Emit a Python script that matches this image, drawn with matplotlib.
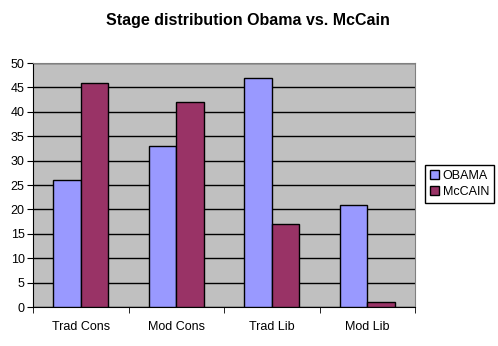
import numpy as np
import matplotlib.pyplot as plt

plt.rcParams['font.family'] = ['Liberation Sans', 'DejaVu Sans']

# Daten
categories = ['Trad Cons', 'Mod Cons', 'Trad Lib', 'Mod Lib']
obama = [26, 33, 47, 21]
mccain = [46, 42, 17, 1]

fig = plt.figure(figsize=(4.98, 3.46), dpi=100)
ax = fig.add_axes([33/498, 1-307/346, (415-33)/498, (307-63)/346])
ax.set_facecolor('#C0C0C0')

x = np.arange(len(categories))
w = 0.286
ax.bar(x - w/2, obama, w, color='#9999FF', edgecolor='black', linewidth=1, label='OBAMA', zorder=3)
ax.bar(x + w/2, mccain, w, color='#993366', edgecolor='black', linewidth=1, label='McCAIN', zorder=3)

ax.set_xlim(-0.5, 3.5)
ax.set_ylim(0, 50)
ax.set_yticks(range(0, 51, 5))
ax.yaxis.grid(True, color='black', linewidth=1, zorder=1)
ax.set_axisbelow(True)

ax.set_xticks(x)
ax.set_xticklabels(categories)
ax.set_xticks(np.arange(-0.5, 4, 1), minor=True)
ax.tick_params(axis='x', which='major', length=0, pad=10, labelsize=9)
ax.tick_params(axis='x', which='minor', length=4, direction='out', color='black')
ax.tick_params(axis='y', length=4, direction='out', labelsize=9, pad=2)

for s in ['top', 'right']:
    ax.spines[s].set_color('#808080')
for s in ['left', 'bottom']:
    ax.spines[s].set_color('black')

fig.text(248/498, 1-21/346, 'Stage distribution Obama vs. McCain', ha='center', va='center',
         fontsize=11.5, fontweight='bold')

leg = fig.legend(loc='center', bbox_to_anchor=(459.5/498, 1-184/346), fontsize=9,
                 frameon=True, fancybox=False, edgecolor='black', framealpha=1,
                 handlelength=0.7, handleheight=0.7, handletextpad=0.3, borderpad=0.4,
                 labelspacing=0.35, borderaxespad=0)
leg.get_frame().set_linewidth(1)

fig.savefig('out.png', dpi=100)
